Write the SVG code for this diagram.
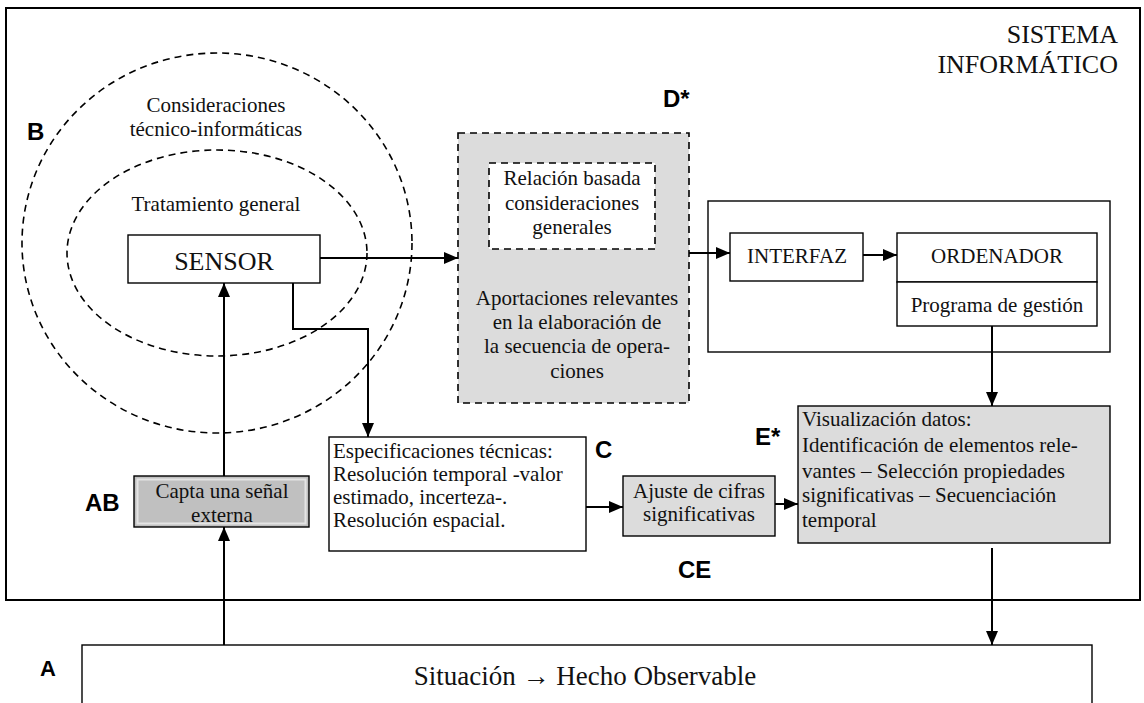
<svg xmlns="http://www.w3.org/2000/svg" width="1144" height="703" viewBox="0 0 1144 703">
<defs>
<marker id="ah" markerUnits="userSpaceOnUse" markerWidth="14" markerHeight="14" refX="14" refY="7" orient="auto">
<path d="M0,1 L14,7 L0,13 z" fill="#000"/>
</marker>
<style>
.t{font-family:"Liberation Serif","Times New Roman",serif;fill:#111;}
.lb{font-family:"Liberation Sans",Arial,sans-serif;font-weight:bold;fill:#000;}
.box{fill:#fff;stroke:#000;stroke-width:1.4;}
.gbox{fill:#dcdcdc;stroke:#000;stroke-width:1.4;}
.dash{fill:none;stroke:#000;stroke-width:1.6;stroke-dasharray:7,5;}
.con{fill:none;stroke:#000;stroke-width:2;}
</style>
</defs>
<rect width="1144" height="703" fill="#fff"/>

<g id="sistema">
<rect x="6" y="8" width="1134" height="592" fill="none" stroke="#000" stroke-width="2"/>
<text class="t" x="1118" y="43" font-size="26" text-anchor="end">SISTEMA</text>
<text class="t" x="1118" y="73" font-size="26" text-anchor="end">INFORMÁTICO</text>
</g>

<g id="consideraciones">
<ellipse cx="217" cy="243" rx="195" ry="190" class="dash"/>
<text class="t" x="216" y="112" font-size="21" text-anchor="middle">Consideraciones</text>
<text class="t" x="216" y="136" font-size="21" text-anchor="middle">técnico-informáticas</text>
<text class="lb" x="27" y="140" font-size="24">B</text>
</g>

<g id="tratamiento">
<ellipse cx="217" cy="253" rx="150" ry="103" class="dash"/>
<text class="t" x="216" y="211" font-size="21" text-anchor="middle">Tratamiento general</text>
</g>

<g id="sensor">
<rect x="128" y="235" width="192" height="48" class="box"/>
<text class="t" x="224" y="270" font-size="26" text-anchor="middle">SENSOR</text>
</g>

<g id="aportaciones">
<rect x="458" y="133" width="231" height="270" fill="#dcdcdc" stroke="#000" stroke-width="1.6" stroke-dasharray="7,5"/>
<text class="t" x="577" y="305" font-size="21" text-anchor="middle">Aportaciones relevantes</text>
<text class="t" x="577" y="329" font-size="21" text-anchor="middle">en la elaboración de</text>
<text class="t" x="577" y="353" font-size="21" text-anchor="middle">la secuencia de opera-</text>
<text class="t" x="577" y="378" font-size="21" text-anchor="middle">ciones</text>
<text class="lb" x="663" y="107" font-size="24">D*</text>
</g>

<g id="relacion">
<rect x="489" y="163" width="166" height="86" fill="#fff" stroke="#000" stroke-width="1.6" stroke-dasharray="7,5"/>
<text class="t" x="572" y="185" font-size="21" text-anchor="middle">Relación basada</text>
<text class="t" x="572" y="210" font-size="21" text-anchor="middle">consideraciones</text>
<text class="t" x="572" y="234" font-size="21" text-anchor="middle">generales</text>
</g>

<g id="ordenador-grupo">
<rect x="708" y="201" width="402" height="151" class="box"/>
</g>

<g id="interfaz">
<rect x="730" y="233" width="133" height="48" class="box"/>
<text class="t" x="797" y="263" font-size="21" text-anchor="middle">INTERFAZ</text>
</g>

<g id="ordenador">
<rect x="897" y="233" width="200" height="49" class="box"/>
<text class="t" x="997" y="263" font-size="21" text-anchor="middle">ORDENADOR</text>
</g>

<g id="programa">
<rect x="897" y="282" width="200" height="44" class="box"/>
<text class="t" x="997" y="312" font-size="21" text-anchor="middle">Programa de gestión</text>
</g>

<g id="visualizacion">
<rect x="798" y="406" width="312" height="137" class="gbox"/>
<text class="t" x="802" y="426" font-size="21">Visualización datos:</text>
<text class="t" x="802" y="452" font-size="21">Identificación de elementos rele-</text>
<text class="t" x="802" y="478" font-size="21">vantes – Selección propiedades</text>
<text class="t" x="802" y="502" font-size="21">significativas – Secuenciación</text>
<text class="t" x="802" y="527" font-size="21">temporal</text>
<text class="lb" x="755" y="445" font-size="24">E*</text>
</g>

<g id="especificaciones">
<rect x="329" y="437" width="257" height="114" class="box"/>
<text class="t" x="333" y="458" font-size="21">Especificaciones técnicas:</text>
<text class="t" x="333" y="481" font-size="21">Resolución temporal -valor</text>
<text class="t" x="333" y="504" font-size="21">estimado, incerteza-.</text>
<text class="t" x="333" y="527" font-size="21">Resolución espacial.</text>
<text class="lb" x="595" y="458" font-size="24">C</text>
</g>

<g id="ajuste">
<rect x="623" y="476" width="152" height="60" class="gbox"/>
<text class="t" x="699" y="498" font-size="21" text-anchor="middle">Ajuste de cifras</text>
<text class="t" x="699" y="521" font-size="21" text-anchor="middle">significativas</text>
<text class="lb" x="678" y="578" font-size="24">CE</text>
</g>

<g id="capta">
<rect x="134" y="476" width="175" height="51" fill="#c0c0c0" stroke="#000" stroke-width="1.4"/>
<rect x="137.5" y="479.5" width="168" height="44" fill="none" stroke="#e4e4e4" stroke-width="2"/>
<text class="t" x="222" y="498" font-size="21" text-anchor="middle">Capta una señal</text>
<text class="t" x="222" y="522" font-size="21" text-anchor="middle">externa</text>
<text class="lb" x="85" y="511" font-size="24">AB</text>
</g>

<g id="situacion">
<rect x="82" y="645" width="1010" height="80" class="box"/>
<text class="t" x="585" y="685" font-size="27" text-anchor="middle">Situación → Hecho Observable</text>
<text class="lb" x="40" y="676" font-size="22">A</text>
</g>

<g id="connectors">
<line x1="320" y1="258" x2="458" y2="258" class="con" marker-end="url(#ah)"/>
<line x1="689" y1="253" x2="730" y2="253" class="con" marker-end="url(#ah)"/>
<line x1="863" y1="255" x2="897" y2="255" class="con" marker-end="url(#ah)"/>
<line x1="992" y1="326" x2="992" y2="406" class="con" marker-end="url(#ah)"/>
<polyline points="293,283 293,329 368,329 368,437" class="con" marker-end="url(#ah)"/>
<line x1="224" y1="476" x2="224" y2="283" class="con" marker-end="url(#ah)"/>
<line x1="224" y1="645" x2="224" y2="527" class="con" marker-end="url(#ah)"/>
<line x1="586" y1="507" x2="623" y2="507" class="con" marker-end="url(#ah)"/>
<line x1="775" y1="504" x2="798" y2="504" class="con" marker-end="url(#ah)"/>
<line x1="992" y1="548" x2="992" y2="645" class="con" marker-end="url(#ah)"/>
</g>
</svg>
